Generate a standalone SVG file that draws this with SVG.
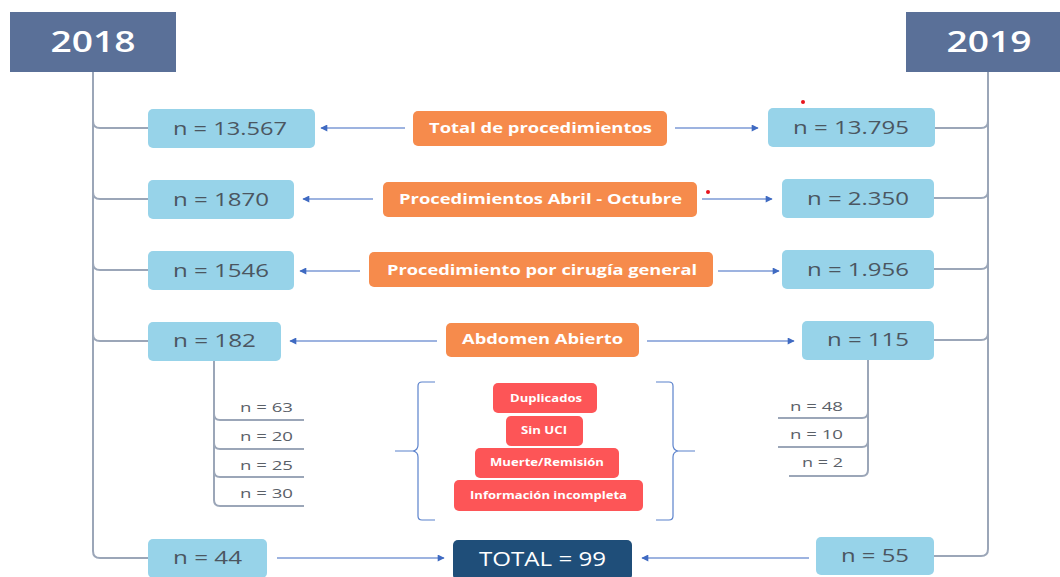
<svg xmlns="http://www.w3.org/2000/svg" width="1060" height="577" viewBox="0 0 1060 577">
<style>
  text { font-family: "Open Sans", "Liberation Sans", sans-serif; }
  .hdr { fill: #5a7098; }
  .hdrt { fill: #ffffff; font-size: 28px; font-weight: 600; }
  .val { fill: #97d3e9; }
  .valt { fill: #4b5661; font-size: 18px; }
  .cat { fill: #f68b4c; }
  .catt { fill: #ffffff; font-size: 14.5px; font-weight: 700; }
  .exc { fill: #fd5557; }
  .exct { fill: #ffffff; font-size: 10.5px; font-weight: 700; }
  .tot { fill: #1f4e79; }
  .tott { fill: #ffffff; font-size: 20px; }
  .subt { fill: #5a6068; font-size: 13.5px; }
  .trunk { fill: none; stroke: #9ba6b8; stroke-width: 2; }
  .arr { fill: none; stroke: #7c9ad6; stroke-width: 1.3; marker-end: url(#ah); }
  .brace { fill: none; stroke: #5b82cc; stroke-width: 1.2; }
</style>
<defs>
  <marker id="ah" viewBox="0 0 10 10" refX="9" refY="5" markerWidth="9" markerHeight="7" markerUnits="userSpaceOnUse" orient="auto">
    <path d="M0,0 L10,5 L0,10 z" fill="#3f6ac2"/>
  </marker>
</defs>
<rect width="1060" height="577" fill="#ffffff"/>

<g id="connectors">
  <!-- left trunk -->
  <path class="trunk" d="M93,72 V551 q0,7 7,7 H148"/>
  <path class="trunk" d="M93,121 q0,7 7,7 H148"/>
  <path class="trunk" d="M93,192 q0,7 7,7 H148"/>
  <path class="trunk" d="M93,263 q0,7 7,7 H148"/>
  <path class="trunk" d="M93,334 q0,7 7,7 H148"/>
  <!-- right trunk -->
  <path class="trunk" d="M988,72 V549 q0,7 -7,7 H934"/>
  <path class="trunk" d="M988,121 q0,7 -7,7 H935"/>
  <path class="trunk" d="M988,191 q0,7 -7,7 H934"/>
  <path class="trunk" d="M988,262 q0,7 -7,7 H934"/>
  <path class="trunk" d="M988,333 q0,7 -7,7 H934"/>
  <!-- left sub list -->
  <path class="trunk" d="M214,360 V500 q0,6 6,6 H304"/>
  <path class="trunk" d="M214,414 q0,6 6,6 H304"/>
  <path class="trunk" d="M214,443 q0,6 6,6 H304"/>
  <path class="trunk" d="M214,471 q0,6 6,6 H304"/>
  <!-- right sub list -->
  <path class="trunk" d="M868,360 V470 q0,6 -6,6 H789"/>
  <path class="trunk" d="M868,412 q0,6 -6,6 H778"/>
  <path class="trunk" d="M868,441 q0,6 -6,6 H778"/>
  <!-- arrows -->
  <path class="arr" d="M405,128 H321"/>
  <path class="arr" d="M675,128 H758"/>
  <path class="arr" d="M373,199 H303"/>
  <path class="arr" d="M702,199 H772"/>
  <path class="arr" d="M360,271 H300"/>
  <path class="arr" d="M718,271 H779"/>
  <path class="arr" d="M437,341 H290"/>
  <path class="arr" d="M647,341 H794"/>
  <path class="arr" d="M277,558 H444"/>
  <path class="arr" d="M809,558 H642"/>
  <!-- braces -->
  <path class="brace" d="M435,382 H422 q-4,0 -4,4 V445 q0,5 -5,6 H395 H413 q5,1 5,6 V516 q0,4 4,4 H435"/>
  <path class="brace" d="M656,382 H669 q4,0 4,4 V445 q0,5 5,6 H695 H678 q-5,1 -5,6 V516 q0,4 -4,4 H656"/>
</g>

<g id="h2018"><rect class="hdr" x="10" y="12" width="166" height="60"/><text class="hdrt" x="93" y="52" text-anchor="middle" textLength="85" lengthAdjust="spacingAndGlyphs">2018</text></g>
<g id="h2019"><rect class="hdr" x="906" y="12" width="154" height="60"/><text class="hdrt" x="989" y="52" text-anchor="middle" textLength="85" lengthAdjust="spacingAndGlyphs">2019</text></g>

<g id="l1"><rect class="val" x="148" y="109" width="167" height="39" rx="5"/><text class="valt" x="173" y="135" textLength="114" lengthAdjust="spacingAndGlyphs">n = 13.567</text></g>
<g id="l2"><rect class="val" x="148" y="180" width="146" height="39" rx="5"/><text class="valt" x="173" y="206" textLength="96" lengthAdjust="spacingAndGlyphs">n = 1870</text></g>
<g id="l3"><rect class="val" x="148" y="251" width="146" height="39" rx="5"/><text class="valt" x="173" y="277" textLength="96" lengthAdjust="spacingAndGlyphs">n = 1546</text></g>
<g id="l4"><rect class="val" x="148" y="322" width="133" height="39" rx="5"/><text class="valt" x="173" y="347" textLength="83" lengthAdjust="spacingAndGlyphs">n = 182</text></g>
<g id="l5"><rect class="val" x="148" y="539" width="119" height="39" rx="5"/><text class="valt" x="173" y="564" textLength="69" lengthAdjust="spacingAndGlyphs">n = 44</text></g>

<g id="r1"><rect class="val" x="768" y="108" width="167" height="39" rx="5"/><text class="valt" x="793" y="134" textLength="116" lengthAdjust="spacingAndGlyphs">n = 13.795</text></g>
<g id="r2"><rect class="val" x="782" y="179" width="152" height="39" rx="5"/><text class="valt" x="807" y="205" textLength="102" lengthAdjust="spacingAndGlyphs">n = 2.350</text></g>
<g id="r3"><rect class="val" x="782" y="250" width="152" height="39" rx="5"/><text class="valt" x="807" y="276" textLength="102" lengthAdjust="spacingAndGlyphs">n = 1.956</text></g>
<g id="r4"><rect class="val" x="802" y="321" width="132" height="39" rx="5"/><text class="valt" x="827" y="346" textLength="82" lengthAdjust="spacingAndGlyphs">n = 115</text></g>
<g id="r5"><rect class="val" x="816" y="537" width="118" height="38" rx="5"/><text class="valt" x="841" y="562" textLength="68" lengthAdjust="spacingAndGlyphs">n = 55</text></g>

<g id="c1"><rect class="cat" x="413" y="111" width="254" height="35" rx="5"/><text class="catt" x="429" y="133" textLength="223" lengthAdjust="spacingAndGlyphs">Total de procedimientos</text></g>
<g id="c2"><rect class="cat" x="383" y="182" width="314" height="35" rx="5"/><text class="catt" x="399" y="204" textLength="283" lengthAdjust="spacingAndGlyphs">Procedimientos Abril - Octubre</text></g>
<g id="c3"><rect class="cat" x="369" y="252" width="344" height="35" rx="5"/><text class="catt" x="387" y="275" textLength="310" lengthAdjust="spacingAndGlyphs">Procedimiento por cirugía general</text></g>
<g id="c4"><rect class="cat" x="446" y="323" width="193" height="34" rx="5"/><text class="catt" x="462" y="344" textLength="161" lengthAdjust="spacingAndGlyphs">Abdomen Abierto</text></g>

<g id="e1"><rect class="exc" x="493" y="383" width="104" height="30" rx="5"/><text class="exct" x="510" y="402" textLength="72" lengthAdjust="spacingAndGlyphs">Duplicados</text></g>
<g id="e2"><rect class="exc" x="506" y="416" width="77" height="30" rx="5"/><text class="exct" x="521" y="434" textLength="46" lengthAdjust="spacingAndGlyphs">Sin UCI</text></g>
<g id="e3"><rect class="exc" x="475" y="448" width="144" height="30" rx="5"/><text class="exct" x="490" y="466" textLength="114" lengthAdjust="spacingAndGlyphs">Muerte/Remisión</text></g>
<g id="e4"><rect class="exc" x="454" y="480" width="189" height="31" rx="5"/><text class="exct" x="470" y="499" textLength="157" lengthAdjust="spacingAndGlyphs">Información incompleta</text></g>

<g id="total"><rect class="tot" x="453" y="540" width="179" height="40" rx="5"/><text class="tott" x="479" y="566" textLength="127" lengthAdjust="spacingAndGlyphs">TOTAL = 99</text></g>

<g id="sub2018">
  <text class="subt" x="240" y="412" textLength="53" lengthAdjust="spacingAndGlyphs">n = 63</text>
  <text class="subt" x="240" y="441" textLength="53" lengthAdjust="spacingAndGlyphs">n = 20</text>
  <text class="subt" x="240" y="470" textLength="53" lengthAdjust="spacingAndGlyphs">n = 25</text>
  <text class="subt" x="240" y="498" textLength="53" lengthAdjust="spacingAndGlyphs">n = 30</text>
</g>
<g id="sub2019">
  <text class="subt" x="790" y="411" textLength="53" lengthAdjust="spacingAndGlyphs">n = 48</text>
  <text class="subt" x="790" y="439" textLength="53" lengthAdjust="spacingAndGlyphs">n = 10</text>
  <text class="subt" x="802" y="467" textLength="41" lengthAdjust="spacingAndGlyphs">n = 2</text>
</g>

<g id="dots">
  <circle cx="803" cy="102" r="2" fill="#e8141c"/>
  <circle cx="708" cy="192" r="2" fill="#e8141c"/>
</g>
</svg>
